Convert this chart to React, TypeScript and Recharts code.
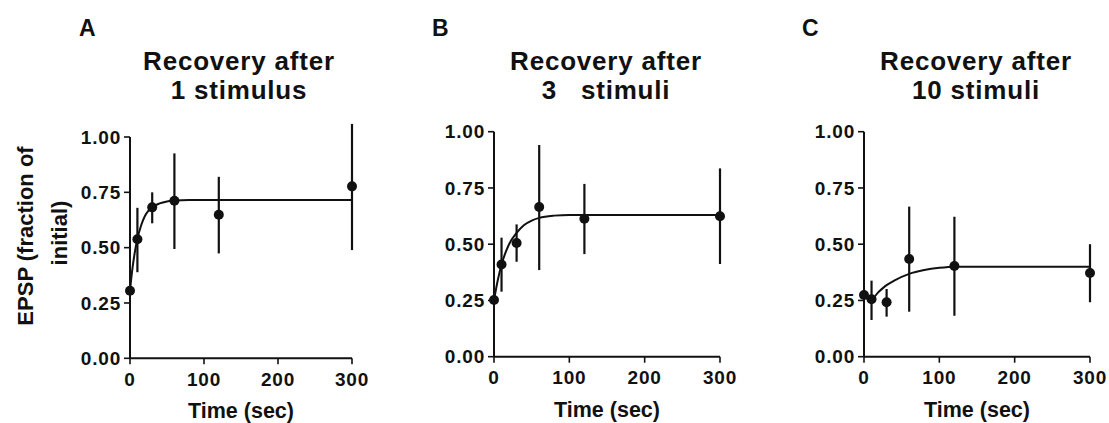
import { ComposedChart, Line, Scatter, XAxis, YAxis, ReferenceLine, Label } from "recharts";

const FONT = "'Liberation Sans', Arial, Helvetica, sans-serif";
const INK = "#111111";

const timeTicks = [0, 100, 200, 300];
const epspTicks = [0, 0.25, 0.5, 0.75, 1];
const sampleTimes = [0, 10, 30, 60, 120, 300];

// A: recovery after 1 stimulus
const meanA = [0.305, 0.538, 0.682, 0.712, 0.649, 0.777];
const lowA = [0.29, 0.389, 0.61, 0.494, 0.474, 0.489];
const highA = [0.32, 0.68, 0.75, 0.926, 0.82, 1.059];
const fitTimesA = [0, 3, 6, 10, 15, 20, 25, 30, 40, 50, 60, 80, 300];
const fitA = [0.305, 0.398, 0.469, 0.54, 0.6, 0.642, 0.667, 0.683, 0.7, 0.709, 0.713, 0.715, 0.715];

// B: recovery after 3 stimuli
const meanB = [0.252, 0.41, 0.505, 0.665, 0.613, 0.624];
const lowB = [0.24, 0.289, 0.422, 0.385, 0.456, 0.412];
const highB = [0.26, 0.529, 0.588, 0.941, 0.768, 0.837];
const fitTimesB = [0, 5, 10, 15, 20, 30, 40, 50, 60, 80, 100, 300];
const fitB = [0.252, 0.34, 0.41, 0.46, 0.5, 0.55, 0.585, 0.605, 0.617, 0.627, 0.63, 0.63];

// C: recovery after 10 stimuli
const meanC = [0.274, 0.255, 0.242, 0.434, 0.403, 0.372];
const lowC = [0.26, 0.163, 0.178, 0.2, 0.182, 0.242];
const highC = [0.285, 0.338, 0.301, 0.667, 0.622, 0.5];
const fitTimesC = [0, 5, 10, 20, 30, 40, 60, 80, 100, 120, 150, 300];
const fitC = [0.272, 0.258, 0.258, 0.29, 0.318, 0.338, 0.368, 0.385, 0.395, 0.4, 0.4, 0.4];

type PanelProps = {
  left: number;
  width: number;
  margin: { top: number; right: number; bottom: number; left: number };
  mean: number[];
  low: number[];
  high: number[];
  fitTimes: number[];
  fit: number[];
};

const tickStyle = { fill: INK, fontSize: 19, fontWeight: 700, fontFamily: FONT, letterSpacing: 0.8 };

function Dot(props: any) {
  const { cx, cy } = props;
  if (cx == null || cy == null) return null;
  return <circle cx={cx} cy={cy} r={5} fill={INK} />;
}

function Panel({ left, width, margin, mean, low, high, fitTimes, fit }: PanelProps) {
  const points = sampleTimes.map((x, i) => ({ x, y: mean[i] }));
  const curve = fitTimes.map((x, i) => ({ x, y: fit[i] }));

  return (
    <div style={{ position: "absolute", left, top: 0 }}>
      <ComposedChart width={width} height={423} margin={margin}>
        <XAxis
          dataKey="x"
          type="number"
          domain={[0, 300]}
          ticks={timeTicks}
          height={60}
          tick={tickStyle}
          tickSize={6}
          tickMargin={8}
          axisLine={{ stroke: INK, strokeWidth: 2 }}
          tickLine={{ stroke: INK, strokeWidth: 1.6 }}
        >
          <Label
            value="Time (sec)"
            position="insideBottom"
            offset={0}
            fill={INK}
            fontSize={21.5}
            fontWeight={700}
            fontFamily={FONT}
          />
        </XAxis>
        <YAxis
          type="number"
          domain={[0, 1]}
          ticks={epspTicks}
          width={60}
          tick={tickStyle}
          tickSize={6}
          tickMargin={3}
          tickFormatter={(v: number) => v.toFixed(2)}
          axisLine={{ stroke: INK, strokeWidth: 2 }}
          tickLine={{ stroke: INK, strokeWidth: 1.6 }}
        />
        <Line
          data={curve}
          dataKey="y"
          type="monotone"
          stroke={INK}
          strokeWidth={2}
          dot={false}
          activeDot={false}
          isAnimationActive={false}
        />
        {sampleTimes.map((t, i) => (
          <ReferenceLine
            key={t}
            segment={[
              { x: t, y: low[i] },
              { x: t, y: high[i] },
            ]}
            stroke={INK}
            strokeWidth={2.2}
            ifOverflow="visible"
          />
        ))}
        <Scatter data={points} dataKey="y" shape={Dot} isAnimationActive={false} />
      </ComposedChart>
    </div>
  );
}

const txt = { fill: INK, fontFamily: FONT, fontWeight: 700 } as const;

export default function App() {
  return (
    <div style={{ position: "absolute", left: 0, top: 0, width: 1109, height: 423, background: "#fff" }}>
      <Panel
        left={0}
        width={370}
        margin={{ top: 137, right: 18, bottom: 4.7, left: 70 }}
        mean={meanA}
        low={lowA}
        high={highA}
        fitTimes={fitTimesA}
        fit={fitA}
      />
      <Panel
        left={370}
        width={370}
        margin={{ top: 131.7, right: 20, bottom: 6.3, left: 64 }}
        mean={meanB}
        low={lowB}
        high={highB}
        fitTimes={fitTimesB}
        fit={fitB}
      />
      <Panel
        left={740}
        width={369}
        margin={{ top: 131.7, right: 19, bottom: 6.3, left: 64 }}
        mean={meanC}
        low={lowC}
        high={highC}
        fitTimes={fitTimesC}
        fit={fitC}
      />
      <svg
        width={1109}
        height={423}
        style={{ position: "absolute", left: 0, top: 0, pointerEvents: "none" }}
      >
        <text x={79} y={36} fontSize={23} {...txt}>A</text>
        <text x={432} y={36} fontSize={23} {...txt}>B</text>
        <text x={802} y={36} fontSize={23} {...txt}>C</text>

        <text x={239} y={70} fontSize={26} letterSpacing={0.8} textAnchor="middle" {...txt}>Recovery after</text>
        <text x={239} y={99} fontSize={26} letterSpacing={0.8} textAnchor="middle" {...txt}>1 stimulus</text>
        <text x={606} y={70} fontSize={26} letterSpacing={0.8} textAnchor="middle" {...txt}>Recovery after</text>
        <text x={606} y={99} fontSize={26} letterSpacing={0.8} textAnchor="middle" style={{ whiteSpace: "pre" }} {...txt}>3   stimuli</text>
        <text x={976} y={70} fontSize={26} letterSpacing={0.8} textAnchor="middle" {...txt}>Recovery after</text>
        <text x={976} y={99} fontSize={26} letterSpacing={0.8} textAnchor="middle" {...txt}>10 stimuli</text>

        <text x={33} y={236} fontSize={22} textAnchor="middle" transform="rotate(-90 33 236)" {...txt}>EPSP (fraction of</text>
        <text x={67} y={233} fontSize={22} textAnchor="middle" transform="rotate(-90 67 233)" {...txt}>initial)</text>
      </svg>
    </div>
  );
}
